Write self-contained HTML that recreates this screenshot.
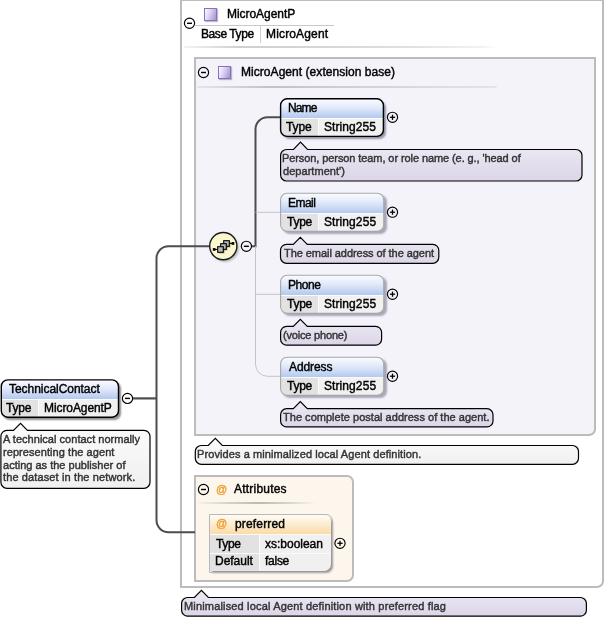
<!DOCTYPE html>
<html><head><meta charset="utf-8"><style>
html,body{margin:0;padding:0;width:605px;height:620px;overflow:hidden;background:#fff;}
body{position:relative;font-family:"Liberation Sans", sans-serif;}
.t{position:absolute;white-space:pre;will-change:transform;}
</style></head><body>
<div style="position:absolute;left:180px;top:-1px;width:420px;height:585px;border:2px solid #bcbcbc;border-bottom-right-radius:7px;background:#fff"></div>
<div style="position:absolute;left:204px;top:8px;width:11px;height:11px;border:1px solid #8a6cc9;background:linear-gradient(110deg,#fdfcff,#d9d0ee 45%,#a48fd2);box-shadow:1px 1px 1px rgba(0,0,0,0.25)"></div>
<div class="t" style="left:226.50px;top:8.00px;font-size:12px;line-height:12px;color:#000;white-space:pre;letter-spacing:-0.050px;-webkit-text-stroke:0.42px #000">MicroAgentP</div>
<div style="position:absolute;left:195px;top:25px;width:139px;height:1px;background:#c9c9c9"></div>
<div class="t" style="left:201.00px;top:28.00px;font-size:12px;line-height:12px;color:#000;white-space:pre;letter-spacing:-0.425px;-webkit-text-stroke:0.42px #000">Base Type</div>
<div style="position:absolute;left:260px;top:26px;width:1px;height:17px;background:#d0d0d0"></div>
<div class="t" style="left:265.60px;top:28.00px;font-size:12px;line-height:12px;color:#000;white-space:pre;letter-spacing:0.156px;-webkit-text-stroke:0.42px #000">MicroAgent</div>
<div style="position:absolute;left:184px;top:46px;width:314px;height:2px;background:linear-gradient(90deg,rgba(225,225,225,0.4),#cfcfcf 18%,#d6d6d6 45%,#e2e2e2 75%,rgba(240,240,240,0.8) 95%,rgba(255,255,255,0))"></div>
<svg style="position:absolute;left:0;top:0" width="605" height="620" viewBox="0 0 605 620"><defs>
<linearGradient id="gLav" x1="0" y1="0" x2="0" y2="1"><stop offset="0" stop-color="#eeeaf5"/><stop offset="1" stop-color="#dbd5e7"/></linearGradient>
<linearGradient id="gGray" x1="0" y1="0" x2="0" y2="1"><stop offset="0" stop-color="#fbfbfb"/><stop offset="1" stop-color="#f0f0f0"/></linearGradient>
<filter id="blur" x="-50%" y="-50%" width="200%" height="200%"><feGaussianBlur stdDeviation="1"/></filter>
<filter id="blur05" x="-50%" y="-50%" width="200%" height="200%"><feGaussianBlur stdDeviation="0.5"/></filter>
</defs><circle cx="189.5" cy="23.3" r="5.1" fill="none" stroke="#000" stroke-width="1.15"/><line x1="187.0" y1="23.3" x2="192.0" y2="23.3" stroke="#000" stroke-width="1.4"/></svg>
<div style="position:absolute;left:194px;top:57px;width:398px;height:375px;border:2px solid #bcbcbc;border-bottom-right-radius:7px;background:#f5f3fa"></div>
<div style="position:absolute;left:218px;top:66px;width:11px;height:11px;border:1px solid #8a6cc9;background:linear-gradient(110deg,#fdfcff,#d9d0ee 45%,#a48fd2);box-shadow:1px 1px 1px rgba(0,0,0,0.25)"></div>
<div class="t" style="left:240.80px;top:66.00px;font-size:12px;line-height:12px;color:#000;white-space:pre;letter-spacing:0.050px;-webkit-text-stroke:0.42px #000">MicroAgent (extension base)</div>
<div style="position:absolute;left:197px;top:86px;width:301px;height:2px;background:linear-gradient(90deg,#e6e4ec,#c2c2c6 24%,#cfcfd3 49%,#dbd9e1 76%,#e3e1e9 99%,rgba(243,241,248,0))"></div>
<svg style="position:absolute;left:0;top:0" width="605" height="620" viewBox="0 0 605 620"><circle cx="203.5" cy="72.5" r="5.1" fill="none" stroke="#000" stroke-width="1.15"/><line x1="201.0" y1="72.5" x2="206.0" y2="72.5" stroke="#000" stroke-width="1.4"/></svg>
<div style="position:absolute;left:194px;top:475px;width:156px;height:103px;border:2px solid #bcbcbc;border-radius:0 7px 7px 0;background:#fdf6ec"></div>
<div style="position:absolute;left:198px;top:502px;width:118px;height:2px;background:linear-gradient(90deg,rgba(235,230,222,0.3),#d6d2cb 25%,#bdbab5 52%,#d9d5ce 78%,rgba(253,246,236,0))"></div>
<svg style="position:absolute;left:0;top:0" width="605" height="620" viewBox="0 0 605 620"><circle cx="203.5" cy="489.5" r="5.1" fill="none" stroke="#000" stroke-width="1.15"/><line x1="201.0" y1="489.5" x2="206.0" y2="489.5" stroke="#000" stroke-width="1.4"/></svg>
<div class="t" style="left:216.00px;top:484.00px;font-size:11px;line-height:11px;color:#eea032;white-space:pre;letter-spacing:0.000px;-webkit-text-stroke:0.4px #eea032">@</div>
<div class="t" style="left:234.30px;top:483.00px;font-size:12px;line-height:12px;color:#000;white-space:pre;letter-spacing:0.211px;-webkit-text-stroke:0.42px #000">Attributes</div>
<svg style="position:absolute;left:0;top:0" width="605" height="620" viewBox="0 0 605 620"><path d="M133,398.4 L156.5,398.4" stroke="#4d4d4d" stroke-width="2.2" fill="none"/><path d="M209.5,246.2 L168.5,246.2 A12,12 0 0 0 156.5,258.2 L156.5,520.2 A12,12 0 0 0 168.5,532.2 L195,532.2" stroke="#4d4d4d" stroke-width="2" fill="none"/><path d="M252,246.2 L255.5,246.2 L255.5,129.2 A12,12 0 0 1 267.5,117.2 L281,117.2" stroke="#4d4d4d" stroke-width="2" fill="none"/><path d="M255.5,246.2 L255.5,364.3 A12,12 0 0 0 267.5,376.3 L281,376.3 M255.5,212.3 L281,212.3 M255.5,294.3 L281,294.3" stroke="#c4c4c4" stroke-width="1" fill="none"/><circle cx="225" cy="248" r="13.8" fill="rgba(0,0,0,0.25)" filter="url(#blur)"/><circle cx="223.3" cy="246.1" r="13.6" fill="#faf6cf" stroke="#1a1a1a" stroke-width="1.4"/><line x1="213.5" y1="249.4" x2="218" y2="249.4" stroke="#000" stroke-width="1"/><line x1="229" y1="243.4" x2="233" y2="243.4" stroke="#000" stroke-width="1"/><rect x="212.8" y="248.1" width="2.7" height="2.7" fill="#000"/><rect x="231.6" y="242.1" width="2.7" height="2.7" fill="#000"/><g filter="url(#blur05)"><rect x="224.5" y="241.5" width="6" height="6" fill="rgba(0,0,0,0.3)"/><rect x="221.5" y="244.5" width="6" height="6" fill="rgba(0,0,0,0.3)"/><rect x="218.5" y="247.5" width="6" height="6" fill="rgba(0,0,0,0.3)"/></g><rect x="223.7" y="240.7" width="5.6" height="5.6" fill="#b9b9b9" stroke="#000" stroke-width="1.1"/><rect x="220.7" y="243.7" width="5.6" height="5.6" fill="#b9b9b9" stroke="#000" stroke-width="1.1"/><rect x="217.7" y="246.7" width="5.6" height="5.6" fill="#b9b9b9" stroke="#000" stroke-width="1.1"/><circle cx="246.4" cy="246.3" r="5.1" fill="none" stroke="#000" stroke-width="1.15"/><line x1="243.9" y1="246.3" x2="248.9" y2="246.3" stroke="#000" stroke-width="1.4"/></svg>
<div style="position:absolute;left:280.6px;top:98.8px;width:102.79999999999995px;height:37.60000000000001px;border-radius:6.5px;box-shadow:2.5px 2.5px 2px rgba(40,30,70,0.45);overflow:hidden;background:#f1f1f1"><div style="position:absolute;left:0;top:0;width:102.79999999999995px;height:19.200000000000003px;background:linear-gradient(#fbfcff,#e2eafa 45%,#b3c9ef)"></div><div style="position:absolute;left:0;top:19.200000000000003px;width:102.79999999999995px;height:1px;background:#fbfbfb"></div><div style="position:absolute;left:0;top:20.200000000000003px;width:37.39999999999998px;height:18.400000000000006px;background:#e2e2e2"></div><div style="position:absolute;left:37.39999999999998px;top:19.200000000000003px;width:1px;height:18.400000000000006px;background:#fbfbfb"></div></div>
<svg style="position:absolute;left:0;top:0" width="605" height="620" viewBox="0 0 605 620"><rect x="280.6" y="98.8" width="102.79999999999995" height="37.60000000000001" rx="6.5" ry="6.5" fill="none" stroke="#000" stroke-width="1.4"/></svg>
<div class="t" style="left:288.00px;top:102.00px;font-size:12px;line-height:12px;color:#000;white-space:pre;letter-spacing:-0.867px;-webkit-text-stroke:0.42px #000">Name</div>
<div class="t" style="left:286.10px;top:121.00px;font-size:12px;line-height:12px;color:#000;white-space:pre;letter-spacing:-0.133px;-webkit-text-stroke:0.42px #000">Type</div>
<div class="t" style="left:324.30px;top:121.00px;font-size:12px;line-height:12px;color:#000;white-space:pre;letter-spacing:0.075px;-webkit-text-stroke:0.42px #000">String255</div>
<svg style="position:absolute;left:0;top:0" width="605" height="620" viewBox="0 0 605 620"><circle cx="392.5" cy="117.3" r="5.1" fill="none" stroke="#000" stroke-width="1.15"/><line x1="389.9" y1="117.3" x2="395.1" y2="117.3" stroke="#000" stroke-width="1.3"/><line x1="392.5" y1="114.7" x2="392.5" y2="119.89999999999999" stroke="#000" stroke-width="1.3"/></svg>
<div style="position:absolute;left:280.6px;top:193.3px;width:103.09999999999997px;height:37.900000000000006px;border-radius:6.5px;box-shadow:2.5px 2.5px 2px rgba(40,30,70,0.36);overflow:hidden;background:#f1f1f1"><div style="position:absolute;left:0;top:0;width:103.09999999999997px;height:19.599999999999994px;background:linear-gradient(#fbfcff,#e2eafa 45%,#b3c9ef)"></div><div style="position:absolute;left:0;top:19.599999999999994px;width:103.09999999999997px;height:1px;background:#fbfbfb"></div><div style="position:absolute;left:0;top:20.599999999999994px;width:37.39999999999998px;height:18.30000000000001px;background:#e2e2e2"></div><div style="position:absolute;left:37.39999999999998px;top:19.599999999999994px;width:1px;height:18.30000000000001px;background:#fbfbfb"></div></div>
<svg style="position:absolute;left:0;top:0" width="605" height="620" viewBox="0 0 605 620"><rect x="280.6" y="193.3" width="103.09999999999997" height="37.900000000000006" rx="6.5" ry="6.5" fill="none" stroke="#a8a8a8" stroke-width="1.1"/></svg>
<div class="t" style="left:287.70px;top:197.00px;font-size:12px;line-height:12px;color:#000;white-space:pre;letter-spacing:-0.525px;-webkit-text-stroke:0.42px #000">Email</div>
<div class="t" style="left:286.60px;top:216.00px;font-size:12px;line-height:12px;color:#000;white-space:pre;letter-spacing:-0.267px;-webkit-text-stroke:0.42px #000">Type</div>
<div class="t" style="left:324.30px;top:216.00px;font-size:12px;line-height:12px;color:#000;white-space:pre;letter-spacing:0.087px;-webkit-text-stroke:0.42px #000">String255</div>
<svg style="position:absolute;left:0;top:0" width="605" height="620" viewBox="0 0 605 620"><circle cx="392.5" cy="212.20000000000002" r="5.1" fill="none" stroke="#000" stroke-width="1.15"/><line x1="389.9" y1="212.20000000000002" x2="395.1" y2="212.20000000000002" stroke="#000" stroke-width="1.3"/><line x1="392.5" y1="209.60000000000002" x2="392.5" y2="214.8" stroke="#000" stroke-width="1.3"/></svg>
<div style="position:absolute;left:280.6px;top:275.3px;width:103.09999999999997px;height:37.89999999999998px;border-radius:6.5px;box-shadow:2.5px 2.5px 2px rgba(40,30,70,0.36);overflow:hidden;background:#f1f1f1"><div style="position:absolute;left:0;top:0;width:103.09999999999997px;height:19.600000000000023px;background:linear-gradient(#fbfcff,#e2eafa 45%,#b3c9ef)"></div><div style="position:absolute;left:0;top:19.600000000000023px;width:103.09999999999997px;height:1px;background:#fbfbfb"></div><div style="position:absolute;left:0;top:20.600000000000023px;width:37.39999999999998px;height:18.299999999999955px;background:#e2e2e2"></div><div style="position:absolute;left:37.39999999999998px;top:19.600000000000023px;width:1px;height:18.299999999999955px;background:#fbfbfb"></div></div>
<svg style="position:absolute;left:0;top:0" width="605" height="620" viewBox="0 0 605 620"><rect x="280.6" y="275.3" width="103.09999999999997" height="37.89999999999998" rx="6.5" ry="6.5" fill="none" stroke="#a8a8a8" stroke-width="1.1"/></svg>
<div class="t" style="left:287.70px;top:279.00px;font-size:12px;line-height:12px;color:#000;white-space:pre;letter-spacing:-0.475px;-webkit-text-stroke:0.42px #000">Phone</div>
<div class="t" style="left:286.60px;top:298.00px;font-size:12px;line-height:12px;color:#000;white-space:pre;letter-spacing:-0.267px;-webkit-text-stroke:0.42px #000">Type</div>
<div class="t" style="left:324.30px;top:298.00px;font-size:12px;line-height:12px;color:#000;white-space:pre;letter-spacing:0.087px;-webkit-text-stroke:0.42px #000">String255</div>
<svg style="position:absolute;left:0;top:0" width="605" height="620" viewBox="0 0 605 620"><circle cx="392.5" cy="294.2" r="5.1" fill="none" stroke="#000" stroke-width="1.15"/><line x1="389.9" y1="294.2" x2="395.1" y2="294.2" stroke="#000" stroke-width="1.3"/><line x1="392.5" y1="291.59999999999997" x2="392.5" y2="296.8" stroke="#000" stroke-width="1.3"/></svg>
<div style="position:absolute;left:280.6px;top:357.3px;width:103.09999999999997px;height:37.89999999999998px;border-radius:6.5px;box-shadow:2.5px 2.5px 2px rgba(40,30,70,0.36);overflow:hidden;background:#f1f1f1"><div style="position:absolute;left:0;top:0;width:103.09999999999997px;height:19.600000000000023px;background:linear-gradient(#fbfcff,#e2eafa 45%,#b3c9ef)"></div><div style="position:absolute;left:0;top:19.600000000000023px;width:103.09999999999997px;height:1px;background:#fbfbfb"></div><div style="position:absolute;left:0;top:20.600000000000023px;width:37.39999999999998px;height:18.299999999999955px;background:#e2e2e2"></div><div style="position:absolute;left:37.39999999999998px;top:19.600000000000023px;width:1px;height:18.299999999999955px;background:#fbfbfb"></div></div>
<svg style="position:absolute;left:0;top:0" width="605" height="620" viewBox="0 0 605 620"><rect x="280.6" y="357.3" width="103.09999999999997" height="37.89999999999998" rx="6.5" ry="6.5" fill="none" stroke="#a8a8a8" stroke-width="1.1"/></svg>
<div class="t" style="left:288.70px;top:361.00px;font-size:12px;line-height:12px;color:#000;white-space:pre;letter-spacing:-0.100px;-webkit-text-stroke:0.42px #000">Address</div>
<div class="t" style="left:286.60px;top:380.00px;font-size:12px;line-height:12px;color:#000;white-space:pre;letter-spacing:-0.267px;-webkit-text-stroke:0.42px #000">Type</div>
<div class="t" style="left:324.30px;top:380.00px;font-size:12px;line-height:12px;color:#000;white-space:pre;letter-spacing:0.087px;-webkit-text-stroke:0.42px #000">String255</div>
<svg style="position:absolute;left:0;top:0" width="605" height="620" viewBox="0 0 605 620"><circle cx="392.5" cy="376.2" r="5.1" fill="none" stroke="#000" stroke-width="1.15"/><line x1="389.9" y1="376.2" x2="395.1" y2="376.2" stroke="#000" stroke-width="1.3"/><line x1="392.5" y1="373.59999999999997" x2="392.5" y2="378.8" stroke="#000" stroke-width="1.3"/></svg>
<div style="position:absolute;left:1.3px;top:379.9px;width:117.2px;height:37.30000000000001px;border-radius:6.5px;box-shadow:2.5px 2.5px 2px rgba(0,0,0,0.45);overflow:hidden;background:#f1f1f1"><div style="position:absolute;left:0;top:0;width:117.2px;height:18.700000000000045px;background:linear-gradient(#fbfcff,#e2eafa 45%,#b3c9ef)"></div><div style="position:absolute;left:0;top:18.700000000000045px;width:117.2px;height:1px;background:#fbfbfb"></div><div style="position:absolute;left:0;top:19.700000000000045px;width:36.900000000000006px;height:18.599999999999966px;background:#e2e2e2"></div><div style="position:absolute;left:36.900000000000006px;top:18.700000000000045px;width:1px;height:18.599999999999966px;background:#fbfbfb"></div></div>
<svg style="position:absolute;left:0;top:0" width="605" height="620" viewBox="0 0 605 620"><rect x="1.3" y="379.9" width="117.2" height="37.30000000000001" rx="6.5" ry="6.5" fill="none" stroke="#000" stroke-width="1.4"/></svg>
<div class="t" style="left:9.40px;top:383.00px;font-size:12px;line-height:12px;color:#000;white-space:pre;letter-spacing:-0.040px;-webkit-text-stroke:0.42px #000">TechnicalContact</div>
<div class="t" style="left:6.40px;top:402.00px;font-size:12px;line-height:12px;color:#000;white-space:pre;letter-spacing:-0.200px;-webkit-text-stroke:0.42px #000">Type</div>
<div class="t" style="left:43.60px;top:402.00px;font-size:12px;line-height:12px;color:#000;white-space:pre;letter-spacing:-0.090px;-webkit-text-stroke:0.42px #000">MicroAgentP</div>
<svg style="position:absolute;left:0;top:0" width="605" height="620" viewBox="0 0 605 620"><circle cx="127.5" cy="398.4" r="5.1" fill="none" stroke="#000" stroke-width="1.15"/><line x1="125.0" y1="398.4" x2="130.0" y2="398.4" stroke="#000" stroke-width="1.4"/></svg>
<div style="position:absolute;left:209.5px;top:514.5px;width:121.5px;height:56.5px;border-radius:0 7px 7px 0;box-shadow:2px 2px 2px rgba(0,0,0,0.4);overflow:hidden;background:#f0f0f0"><div style="position:absolute;left:0;top:0;width:122px;height:19.4px;background:linear-gradient(#fffcf5,#fbdba8)"></div><div style="position:absolute;left:0;top:19.4px;width:49.5px;height:38px;background:#e2e2e2"></div><div style="position:absolute;left:0;top:19.4px;width:122px;height:1px;background:#fbfbfb"></div><div style="position:absolute;left:0;top:38px;width:122px;height:1px;background:#fbfbfb"></div><div style="position:absolute;left:49.5px;top:19.4px;width:1px;height:38px;background:#fbfbfb"></div></div>
<div style="position:absolute;left:209px;top:514px;width:121.5px;height:56.5px;border-radius:0 7px 7px 0;border:1px solid #b8b8b8"></div>
<div class="t" style="left:215.75px;top:518.00px;font-size:11px;line-height:11px;color:#eea032;white-space:pre;letter-spacing:0.000px;-webkit-text-stroke:0.4px #eea032">@</div>
<div class="t" style="left:234.70px;top:518.00px;font-size:12px;line-height:12px;color:#000;white-space:pre;letter-spacing:0.163px;-webkit-text-stroke:0.42px #000">preferred</div>
<div class="t" style="left:215.90px;top:538.00px;font-size:12px;line-height:12px;color:#000;white-space:pre;letter-spacing:-0.333px;-webkit-text-stroke:0.42px #000">Type</div>
<div class="t" style="left:265.30px;top:538.00px;font-size:12px;line-height:12px;color:#000;white-space:pre;letter-spacing:-0.011px;-webkit-text-stroke:0.42px #000">xs:boolean</div>
<div class="t" style="left:214.90px;top:555.00px;font-size:12px;line-height:12px;color:#000;white-space:pre;letter-spacing:-0.017px;-webkit-text-stroke:0.42px #000">Default</div>
<div class="t" style="left:265.30px;top:555.00px;font-size:12px;line-height:12px;color:#000;white-space:pre;letter-spacing:-0.263px;-webkit-text-stroke:0.42px #000">false</div>
<svg style="position:absolute;left:0;top:0" width="605" height="620" viewBox="0 0 605 620"><circle cx="340" cy="543.3" r="5.1" fill="none" stroke="#000" stroke-width="1.15"/><line x1="337.4" y1="543.3" x2="342.6" y2="543.3" stroke="#000" stroke-width="1.3"/><line x1="340" y1="540.6999999999999" x2="340" y2="545.9" stroke="#000" stroke-width="1.3"/><path d="M286.6,149.5 L293.5,149.5 L300.5,142.2 L307.5,149.5 L576,149.5 A6,6 0 0 1 582,155.5 L582,175 A6,6 0 0 1 576,181 L286.6,181 A6,6 0 0 1 280.6,175 L280.6,155.5 A6,6 0 0 1 286.6,149.5 Z" fill="url(#gLav)" stroke="#000" stroke-width="1.2"/><path d="M286.5,244.4 L293.3,244.4 L300.3,237.3 L307.3,244.4 L432.8,244.4 A6,6 0 0 1 438.8,250.4 L438.8,257.3 A6,6 0 0 1 432.8,263.3 L286.5,263.3 A6,6 0 0 1 280.5,257.3 L280.5,250.4 A6,6 0 0 1 286.5,244.4 Z" fill="url(#gLav)" stroke="#000" stroke-width="1.2"/><path d="M286.6,326.4 L293.3,326.4 L300.3,319.4 L307.3,326.4 L375.6,326.4 A6,6 0 0 1 381.6,332.4 L381.6,339.2 A6,6 0 0 1 375.6,345.2 L286.6,345.2 A6,6 0 0 1 280.6,339.2 L280.6,332.4 A6,6 0 0 1 286.6,326.4 Z" fill="url(#gLav)" stroke="#000" stroke-width="1.2"/><path d="M286.6,408.7 L293.3,408.7 L300.3,401.7 L307.3,408.7 L487,408.7 A6,6 0 0 1 493,414.7 L493,420.9 A6,6 0 0 1 487,426.9 L286.6,426.9 A6,6 0 0 1 280.6,420.9 L280.6,414.7 A6,6 0 0 1 286.6,408.7 Z" fill="url(#gLav)" stroke="#000" stroke-width="1.2"/><path d="M201.3,445.5 L208.3,445.5 L215.3,438.3 L222.3,445.5 L572.5,445.5 A6,6 0 0 1 578.5,451.5 L578.5,458.3 A6,6 0 0 1 572.5,464.3 L201.3,464.3 A6,6 0 0 1 195.3,458.3 L195.3,451.5 A6,6 0 0 1 201.3,445.5 Z" fill="url(#gGray)" stroke="#000" stroke-width="1.2"/><path d="M6.9,430.3 L13.5,430.3 L20.5,423.3 L27.5,430.3 L144,430.3 A6,6 0 0 1 150,436.3 L150,482.3 A6,6 0 0 1 144,488.3 L6.9,488.3 A6,6 0 0 1 0.9,482.3 L0.9,436.3 A6,6 0 0 1 6.9,430.3 Z" fill="url(#gGray)" stroke="#000" stroke-width="1.2"/><path d="M187.6,597.5 L194.4,597.5 L201.4,590.3 L208.4,597.5 L580.4,597.5 A6,6 0 0 1 586.4,603.5 L586.4,610.2 A6,6 0 0 1 580.4,616.2 L187.6,616.2 A6,6 0 0 1 181.6,610.2 L181.6,603.5 A6,6 0 0 1 187.6,597.5 Z" fill="url(#gLav)" stroke="#000" stroke-width="1.2"/></svg>
<div class="t" style="left:282.30px;top:153.00px;font-size:11px;line-height:11px;color:#333;white-space:pre;letter-spacing:-0.088px;-webkit-text-stroke:0.42px #333">Person, person team, or role name (e. g., 'head of</div>
<div class="t" style="left:283.30px;top:166.00px;font-size:11px;line-height:11px;color:#333;white-space:pre;letter-spacing:0.045px;-webkit-text-stroke:0.42px #333">department')</div>
<div class="t" style="left:284.20px;top:248.00px;font-size:11px;line-height:11px;color:#333;white-space:pre;letter-spacing:-0.055px;-webkit-text-stroke:0.42px #333">The email address of the agent</div>
<div class="t" style="left:283.00px;top:330.00px;font-size:11px;line-height:11px;color:#333;white-space:pre;letter-spacing:-0.183px;-webkit-text-stroke:0.42px #333">(voice phone)</div>
<div class="t" style="left:283.00px;top:412.00px;font-size:11px;line-height:11px;color:#333;white-space:pre;letter-spacing:0.025px;-webkit-text-stroke:0.42px #333">The complete postal address of the agent.</div>
<div class="t" style="left:197.40px;top:449.00px;font-size:11px;line-height:11px;color:#333;white-space:pre;letter-spacing:0.091px;-webkit-text-stroke:0.42px #333">Provides a minimalized local Agent definition.</div>
<div class="t" style="left:3.30px;top:434.00px;font-size:11px;line-height:11px;color:#333;white-space:pre;letter-spacing:0.026px;-webkit-text-stroke:0.42px #333">A technical contact normally</div>
<div class="t" style="left:3.30px;top:447.00px;font-size:11px;line-height:11px;color:#333;white-space:pre;letter-spacing:0.062px;-webkit-text-stroke:0.42px #333">representing the agent</div>
<div class="t" style="left:3.30px;top:460.00px;font-size:11px;line-height:11px;color:#333;white-space:pre;letter-spacing:0.008px;-webkit-text-stroke:0.42px #333">acting as the publisher of</div>
<div class="t" style="left:3.30px;top:472.00px;font-size:11px;line-height:11px;color:#333;white-space:pre;letter-spacing:0.123px;-webkit-text-stroke:0.42px #333">the dataset in the network.</div>
<div class="t" style="left:183.70px;top:601.00px;font-size:11px;line-height:11px;color:#333;white-space:pre;letter-spacing:0.166px;-webkit-text-stroke:0.42px #333">Minimalised local Agent definition with preferred flag</div>
</body></html>
